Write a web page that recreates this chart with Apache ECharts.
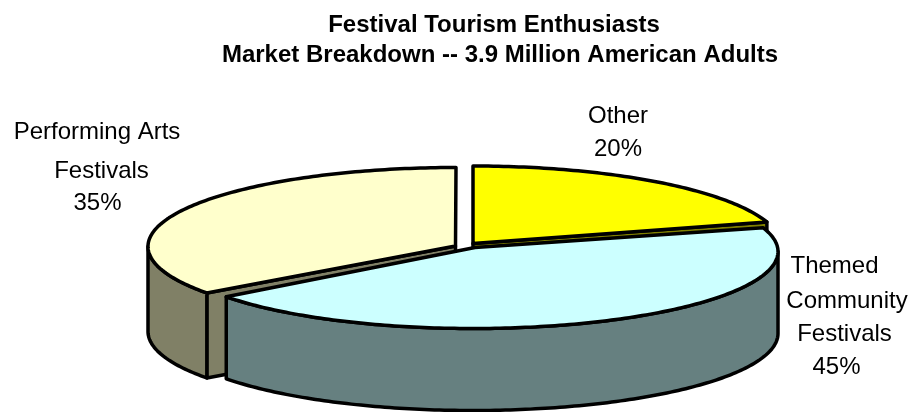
<!DOCTYPE html>
<html>
<head>
<meta charset="utf-8">
<style>html,body{margin:0;padding:0;background:#fff}#chart{width:911px;height:412px}</style>
<script src="https://cdn.jsdelivr.net/npm/echarts@6/dist/echarts.min.js"></script>
</head>
<body>
<div id="chart"></div>
<script>
// Market shares, clockwise from twelve o'clock
const categories = ['Other', 'Themed Community Festivals', 'Performing Arts Festivals'];
const shares = [20, 45, 35];
const topColors = ['#ffff00', '#ccffff', '#ffffcc'];
const sideColors = ['#808000', '#668080', '#808066'];
const titleLines = ['Festival Tourism Enthusiasts', 'Market Breakdown -- 3.9 Million American Adults'];
const labelLines = [['Other'], ['Themed', 'Community', 'Festivals'], ['Performing Arts', 'Festivals']];

// Tilted-disc geometry of each exploded slice: rim centre, radii, wall height and the
// apex, which perspective lifts slightly off the rim centre
const sliceShapes = [
  { cx: 473, cy: 247, rx: 309, ry: 81, depth: 82, apex: [473, 243.5] },
  { cx: 473, cy: 251.5, rx: 305, ry: 77, depth: 82, apex: [475, 247.5] },
  { cx: 456, cy: 246.5, rx: 308, ry: 79, depth: 85, apex: [455.5, 246] }
];
// Centre x and y of each label line, last entry is the percentage
const labelSpots = [
  [[618, 116.5], [618, 149]],
  [[834.5, 266.5], [847, 301.5], [844.5, 334], [836.5, 367.5]],
  [[97, 132.5], [101.5, 171], [97.5, 203.5]]
];
// Horizontal and vertical placement of the two title lines
const titleSpots = [[489, 8], [495, 38]];
// Painting order: back slices first so the front slice overlaps them
const paintOrder = [2, 0, 1];

const total = shares.reduce((a, b) => a + b, 0);
const startShare = shares.map((_, i) => shares.slice(0, i).reduce((a, b) => a + b, 0));

function rimPoint(s, angle, drop) {
  return [s.cx + s.rx * Math.sin(angle), s.cy - s.ry * Math.cos(angle) + (drop || 0)];
}
function arc(s, from, to, drop) {
  const n = Math.max(2, Math.ceil(Math.abs(to - from) * 60));
  const pts = [];
  for (let k = 0; k <= n; k++) pts.push(rimPoint(s, from + (to - from) * k / n, drop));
  return pts;
}
function outline(points, fill) {
  return {
    type: 'polygon',
    shape: { points: points },
    style: { fill: fill, stroke: '#000', lineWidth: 3.5, lineJoin: 'round' }
  };
}

function renderSlice(params, api) {
  const i = api.value(0);
  const s = sliceShapes[i];
  const a0 = api.value(1) / total * 2 * Math.PI;
  const a1 = a0 + api.value(2) / total * 2 * Math.PI;
  const children = [];
  const apexDown = [s.apex[0], s.apex[1] + s.depth];

  // Cut faces that look toward the viewer
  const faceAngles = [];
  if (Math.sin(a0) < 0 && i !== 0) faceAngles.push(a0);
  if (Math.sin(a1) > 0) faceAngles.push(a1);
  faceAngles.forEach(a => {
    const p = rimPoint(s, a);
    children.push(outline([s.apex, p, [p[0], p[1] + s.depth], apexDown], sideColors[i]));
  });

  // Outer wall on the front half of the disc
  const lo = Math.max(a0, Math.PI / 2);
  const hi = Math.min(a1, 1.5 * Math.PI);
  if (hi > lo) {
    children.push(outline(arc(s, lo, hi, 0).concat(arc(s, hi, lo, s.depth)), sideColors[i]));
  }

  // Top surface
  children.push(outline([s.apex].concat(arc(s, a0, a1, 0)), topColors[i]));

  // Labels: the category lines and then the percentage
  const lines = labelLines[i].concat([api.value(2) + '%']);
  lines.forEach((line, k) => {
    children.push({
      type: 'text',
      z2: 10,
      style: {
        x: labelSpots[i][k][0],
        y: labelSpots[i][k][1],
        text: line,
        fill: '#000',
        font: '24px "Liberation Sans", Arial, sans-serif',
        align: 'center',
        verticalAlign: 'middle'
      }
    });
  });
  return { type: 'group', children: children };
}

const chart = echarts.init(document.getElementById('chart'), null, { renderer: 'canvas' });
chart.setOption({
  animation: false,
  backgroundColor: '#fff',
  title: titleLines.map((line, k) => ({
    text: line,
    left: titleSpots[k][0],
    top: titleSpots[k][1],
    textAlign: 'center',
    textStyle: {
      fontFamily: '"Liberation Sans", Arial, sans-serif',
      fontWeight: 'bold',
      fontSize: 24,
      color: '#000'
    }
  })),
  series: [{
    type: 'custom',
    coordinateSystem: 'none',
    silent: true,
    renderItem: renderSlice,
    data: paintOrder.map(i => ({ name: categories[i], value: [i, startShare[i], shares[i]] }))
  }]
});
</script>
</body>
</html>
